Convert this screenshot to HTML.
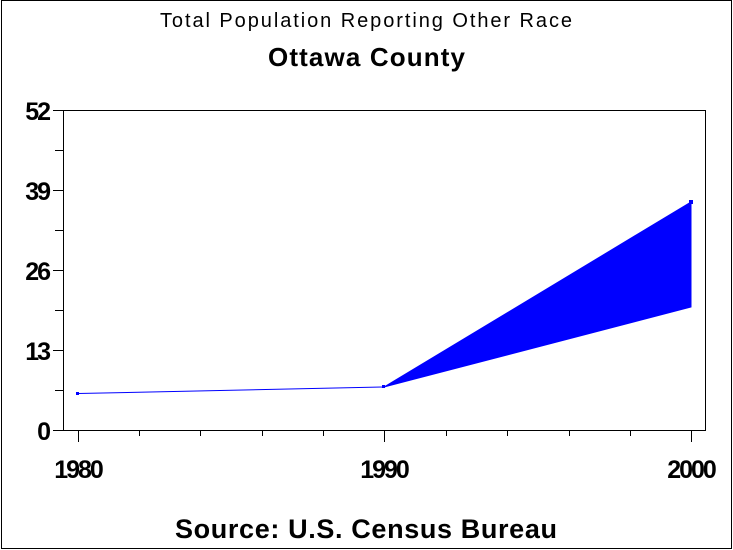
<!DOCTYPE html>
<html><head><style>body{margin:0;background:#fff}svg{display:block}</style></head><body>
<svg width="733" height="550" viewBox="0 0 733 550" xmlns="http://www.w3.org/2000/svg" font-family="Liberation Sans, Arial, sans-serif">
<rect x="0" y="0" width="733" height="550" fill="#fff"/>
<rect x="1.5" y="0.5" width="730" height="548" fill="none" stroke="#000" stroke-width="1"/>
<text x="160" y="27" font-size="20" textLength="412" lengthAdjust="spacing">Total Population Reporting Other Race</text>
<text x="268" y="66" font-size="26" font-weight="bold" textLength="197" lengthAdjust="spacing">Ottawa County</text>
<rect x="63.5" y="110.5" width="642" height="320" fill="none" stroke="#000"/>
<g stroke="#000" stroke-width="1">
<line x1="53" y1="110.5" x2="63" y2="110.5"/><line x1="53" y1="190.5" x2="63" y2="190.5"/><line x1="53" y1="270.5" x2="63" y2="270.5"/><line x1="53" y1="350.5" x2="63" y2="350.5"/><line x1="53" y1="430.5" x2="63" y2="430.5"/>
<line x1="55" y1="150.5" x2="63" y2="150.5"/><line x1="55" y1="230.5" x2="63" y2="230.5"/><line x1="55" y1="310.5" x2="63" y2="310.5"/><line x1="55" y1="390.5" x2="63" y2="390.5"/>
<line x1="78.5" y1="431" x2="78.5" y2="442"/><line x1="384.5" y1="431" x2="384.5" y2="442"/><line x1="691.5" y1="431" x2="691.5" y2="442"/>
<line x1="139.5" y1="431" x2="139.5" y2="436"/><line x1="200.5" y1="431" x2="200.5" y2="436"/><line x1="262.5" y1="431" x2="262.5" y2="436"/><line x1="323.5" y1="431" x2="323.5" y2="436"/><line x1="446.5" y1="431" x2="446.5" y2="436"/><line x1="507.5" y1="431" x2="507.5" y2="436"/><line x1="569.5" y1="431" x2="569.5" y2="436"/><line x1="630.5" y1="431" x2="630.5" y2="436"/>
</g>
<g font-size="25" font-weight="bold" text-anchor="end" letter-spacing="-2">
<text x="49" y="120">52</text><text x="49" y="200">39</text><text x="49" y="280">26</text><text x="49" y="360">13</text><text x="49" y="440">0</text>
</g>
<g font-size="25" font-weight="bold" text-anchor="middle" letter-spacing="-2">
<text x="78" y="478">1980</text><text x="384" y="478">1990</text><text x="691" y="478">2000</text>
</g>
<polygon points="384,387 691,202 691,307" fill="#0000ff" stroke="#0000ff"/>
<polyline points="78,393.5 384,387" fill="none" stroke="#0000ff" stroke-width="1"/>
<rect x="76" y="392" width="3" height="3" fill="#0000ff"/><rect x="382" y="385" width="3" height="3" fill="#0000ff"/><rect x="689" y="200" width="4" height="4" fill="#0000ff"/>
<text x="175" y="538" font-size="27" font-weight="bold" textLength="382" lengthAdjust="spacing">Source: U.S. Census Bureau</text>
</svg>
</body></html>
